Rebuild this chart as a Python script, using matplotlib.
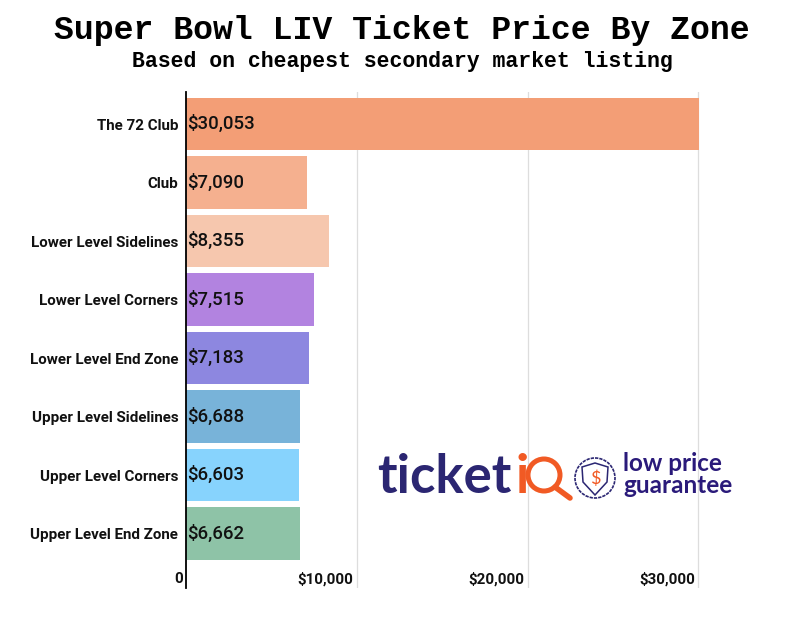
import matplotlib
matplotlib.use('Agg')
import matplotlib.pyplot as plt
from matplotlib.patches import Circle, Polygon

zones = ['The 72 Club', 'Club', 'Lower Level Sidelines', 'Lower Level Corners',
         'Lower Level End Zone', 'Upper Level Sidelines', 'Upper Level Corners',
         'Upper Level End Zone']
prices = [30053, 7090, 8355, 7515, 7183, 6688, 6603, 6662]
colors = ['#f39e76', '#f5b08f', '#f6c7ae', '#b283e0', '#8d87e0', '#78b3d9', '#87d3fd', '#8ec3a7']
ticks = [0, 10000, 20000, 30000]
tick_labels = ['0', '$10,000', '$20,000', '$30,000']

W, H = 800, 623
fig = plt.figure(figsize=(8, 6.23), dpi=100)
ax = fig.add_axes([186 / W, 1 - 588 / H, (770 - 186) / W, (588 - 92) / H])

ypos = list(range(len(zones)))
ax.barh(ypos, prices, height=0.9, color=colors, zorder=2)
ax.set_xlim(0, 34200)
ax.set_ylim(7.93, -0.55)

# gridlines stop at 30000, nothing after it
for t in ticks[1:]:
    ax.axvline(t, color='#dddddd', lw=0.9, zorder=1)
for s in ['top', 'right', 'bottom']:
    ax.spines[s].set_visible(False)
ax.spines['left'].set_linewidth(1.3)
ax.spines['left'].set_zorder(5)

ax.set_yticks(ypos)
ax.set_yticklabels(zones, fontfamily='Roboto', fontweight='bold', fontsize=10.9, color='#111111')
ax.tick_params(axis='y', length=0, pad=5.5)
ax.set_xticks([])

for y, p in zip(ypos, prices):
    ax.text(90, y, '${:,}'.format(p), va='center', ha='left', fontfamily='Roboto',
            fontweight='medium', fontsize=13.4, color='#111111', zorder=4)

# x tick labels sit left of their gridline
for t, lab in zip(ticks, tick_labels):
    ax.text(t - 200 if t else -200, 7.78, lab, ha='right', va='center', fontfamily='Roboto',
            fontweight='bold', fontsize=10.9, color='#111111')

fig.text(402 / W, 1 - 31 / H, 'Super Bowl LIV Ticket Price By Zone', ha='center', va='center',
         fontfamily='Liberation Mono', fontweight='bold', fontsize=23.9, color='black')
fig.text(402 / W, 1 - 62 / H, 'Based on cheapest secondary market listing', ha='center', va='center',
         fontfamily='Liberation Mono', fontweight='bold', fontsize=15.5, color='black')

# logo overlay, pixel coords
lg = fig.add_axes([0, 0, 1, 1], facecolor='none')
lg.set_xlim(0, W)
lg.set_ylim(H, 0)
lg.axis('off')
navy = '#2b2672'
orange = '#f15a24'
lg.text(377, 493, 'ticket', fontfamily='Lato', fontweight='bold', fontsize=38, color=navy, va='baseline')
lg.text(515, 493, 'i', fontfamily='Lato', fontweight='bold', fontsize=38, color=orange, va='baseline')
lg.add_patch(Circle((544, 475), 16, fill=False, ec=orange, lw=3.6))
lg.plot([555, 570], [487, 498], color=orange, lw=4, solid_capstyle='round')
lg.add_patch(Circle((595, 478), 20, fill=False, ec=navy, lw=1.2, ls=(0, (2, 0.6))))
lg.add_patch(Polygon([(582, 467), (595, 463), (608, 467), (607, 482), (595, 495), (583, 482)],
                     closed=True, fill=False, ec=navy, lw=1.1))
lg.text(595, 479, '$', ha='center', va='center', fontfamily='Lato', fontsize=13, color=orange)
lg.text(623, 493, 'low price\nguarantee', fontfamily='Lato', fontweight='bold', fontsize=17.5,
        color='#2a1a7a', va='baseline', linespacing=0.95)

fig.savefig('out.png', dpi=100)
